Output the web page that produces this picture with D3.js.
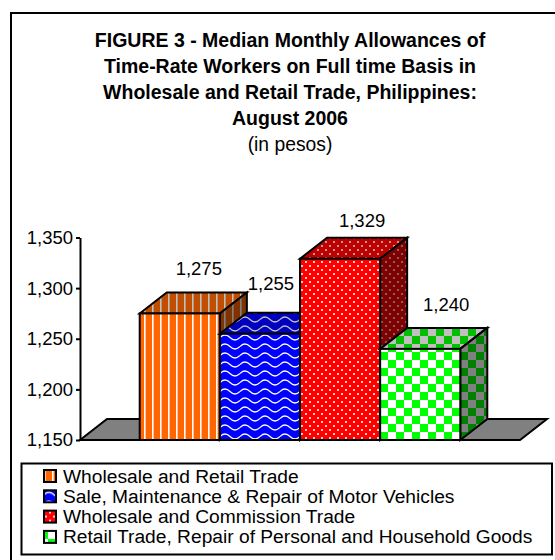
<!DOCTYPE html>
<html>
<head>
<meta charset="utf-8">
<script src="https://cdn.jsdelivr.net/npm/d3@7"></script>
<style>
  html, body { margin: 0; padding: 0; background: #fff; overflow: hidden; }
  text { font-family: "Liberation Sans", Arial, sans-serif; fill: #000; }
</style>
</head>
<body>
<div id="chart"></div>
<script>
var categories = ['Wholesale and Retail Trade', 'Sale, Maintenance & Repair of Motor Vehicles', 'Wholesale and Commission Trade', 'Retail Trade, Repair of Personal and Household Goods']
var values = [1275, 1255, 1329, 1240]
var colors = ['#ff6600', '#0000ff', '#ff0000', '#00ff00']
var sideColors = ['#803300', '#000080', '#800000', '#008000']
var topColors = ['#c04d00', '#0000c0', '#c00000', '#00c000']
var yTicks = [1150, 1200, 1250, 1300, 1350]
var titleLines = ['FIGURE 3 - Median Monthly Allowances of', 'Time-Rate Workers on Full time Basis in', 'Wholesale and Retail Trade, Philippines:', 'August 2006']
var subtitle = '(in pesos)'

var w = 555
var h = 560
var dx = 27
var dy = 21
var midX = 290

var svg = d3.select('#chart')
  .append('svg')
  .attr('width', w)
  .attr('height', h)
  .style('display', 'block')

var defs = svg.append('defs')

// hatch fills, one per series and per face shade
function stripes(id, fg, bg) {
  var p = defs.append('pattern').attr('id', id).attr('patternUnits', 'userSpaceOnUse')
    .attr('width', 8).attr('height', 8).attr('x', 140)
  p.append('rect').attr('width', 8).attr('height', 8).attr('fill', fg)
  p.append('rect').attr('x', 4).attr('width', 1.6).attr('height', 8).attr('fill', bg)
}
function waves(id, fg, bg) {
  var p = defs.append('pattern').attr('id', id).attr('patternUnits', 'userSpaceOnUse')
    .attr('width', 20).attr('height', 9).attr('x', 220)
  p.append('rect').attr('width', 20).attr('height', 9).attr('fill', fg)
  p.append('path').attr('d', 'M0,4.5 Q5,-0.5 10,4.5 T20,4.5').attr('fill', 'none')
    .attr('stroke', bg).attr('stroke-width', 1.2)
}
function dots(id, fg, bg) {
  var p = defs.append('pattern').attr('id', id).attr('patternUnits', 'userSpaceOnUse')
    .attr('width', 8).attr('height', 8).attr('x', 300)
  p.append('rect').attr('width', 8).attr('height', 8).attr('fill', fg)
  p.append('circle').attr('cx', 2).attr('cy', 2).attr('r', 1.05).attr('fill', bg)
  p.append('circle').attr('cx', 6).attr('cy', 6).attr('r', 1.05).attr('fill', bg)
}
function checks(id, fg, bg) {
  var p = defs.append('pattern').attr('id', id).attr('patternUnits', 'userSpaceOnUse')
    .attr('width', 16).attr('height', 16).attr('x', 380)
  p.append('rect').attr('width', 16).attr('height', 16).attr('fill', bg)
  p.append('rect').attr('width', 8).attr('height', 8).attr('fill', fg)
  p.append('rect').attr('x', 8).attr('y', 8).attr('width', 8).attr('height', 8).attr('fill', fg)
}
var makers = [stripes, waves, dots, checks]
makers.forEach(function(make, i) {
  make('front-' + i, colors[i], '#fff')
  make('top-' + i, topColors[i], '#c0c0c0')
  make('side-' + i, sideColors[i], '#808080')
})

// outer frame, runs off the right and bottom of the picture
svg.append('rect')
  .attr('x', 11).attr('y', 13)
  .attr('width', 560).attr('height', 560)
  .attr('fill', '#fff').attr('stroke', '#000').attr('stroke-width', 2)

// title
var title = svg.append('text').attr('text-anchor', 'middle')
  .style('font-size', '19.5px').style('font-weight', 'bold')
titleLines.forEach(function(line, i) {
  title.append('tspan').attr('x', midX).attr('y', 47 + i * 26).text(line)
})
svg.append('text').attr('x', midX).attr('y', 151).attr('text-anchor', 'middle')
  .style('font-size', '19.3px').text(subtitle)

// scales
var x = d3.scaleBand().domain(categories).range([80, 520]).paddingInner(0).paddingOuter(0.745)
var y = d3.scaleLinear().domain([1150, 1350]).range([440, 237.5])

// floor
var y0 = y(1150)
svg.append('path')
  .attr('d', d3.line()([[80, y0], [80 + dx, y0 - dy], [520 + dx, y0 - dy], [520, y0]]) + 'Z')
  .attr('fill', '#808080').attr('stroke', '#000').attr('stroke-width', 2)

// value labels sit by hand in the original, so each gets its own nudge
var labelNudge = [[19, -38], [11, -44], [22, -32], [26, -38]]

var bars = svg.selectAll('g.bar')
  .data(categories)
  .enter()
  .append('g')
  .attr('class', 'bar')

bars.each(function(d, i) {
  var g = d3.select(this)
  var x0 = x(d)
  var x1 = x0 + x.bandwidth()
  var yt = y(values[i])
  var line = d3.line()
  g.append('path')
    .attr('d', line([[x0, yt], [x0 + dx, yt - dy], [x1 + dx, yt - dy], [x1, yt]]) + 'Z')
    .attr('fill', 'url(#top-' + i + ')')
  g.append('path')
    .attr('d', line([[x1, yt], [x1 + dx, yt - dy], [x1 + dx, y0 - dy], [x1, y0]]) + 'Z')
    .attr('fill', 'url(#side-' + i + ')')
  g.append('rect')
    .attr('x', x0).attr('y', yt)
    .attr('width', x.bandwidth()).attr('height', y0 - yt)
    .attr('fill', 'url(#front-' + i + ')')
  g.selectAll('path,rect')
    .attr('stroke', '#000').attr('stroke-width', 2).attr('stroke-linejoin', 'miter')
})

// labels go last, 1,255 overlaps the bar next to it
svg.selectAll('text.value')
  .data(categories)
  .enter()
  .append('text')
  .attr('class', 'value')
  .attr('x', (d, i) => x(d) + x.bandwidth() / 2 + labelNudge[i][0])
  .attr('y', (d, i) => y(values[i]) + labelNudge[i][1])
  .attr('text-anchor', 'middle')
  .style('font-size', '18.5px')
  .text((d, i) => d3.format(',')(values[i]))

// axis
var yAxis = d3.axisLeft(y).tickValues(yTicks).tickSize(4).tickSizeOuter(0).tickPadding(3).tickFormat(d3.format(','))
var axisG = svg.append('g').attr('transform', 'translate(80,0)').call(yAxis)
axisG.select('.domain').attr('stroke', '#000').attr('stroke-width', 2)
axisG.selectAll('.tick line').attr('stroke', '#000').attr('stroke-width', 2)
axisG.selectAll('text').style('font-size', '18.5px').attr('font-family', null)

// legend
svg.append('rect')
  .attr('x', 21.5).attr('y', 463.5)
  .attr('width', 530.5).attr('height', 91)
  .attr('fill', '#fff').attr('stroke', '#000').attr('stroke-width', 2)

var legend = svg.selectAll('g.legend-item')
  .data(categories)
  .enter()
  .append('g')
  .attr('class', 'legend-item')
  .attr('transform', (d, i) => `translate(44,${470 + i * 20.3})`)

legend.append('rect')
  .attr('width', 12).attr('height', 12)
  .attr('fill', (d, i) => 'url(#front-' + i + ')')
  .attr('stroke', '#000').attr('stroke-width', 2)

legend.append('text')
  .attr('x', 19).attr('y', 12.5)
  .style('font-size', '19.2px')
  .text(d => d)
</script>
</body>
</html>
